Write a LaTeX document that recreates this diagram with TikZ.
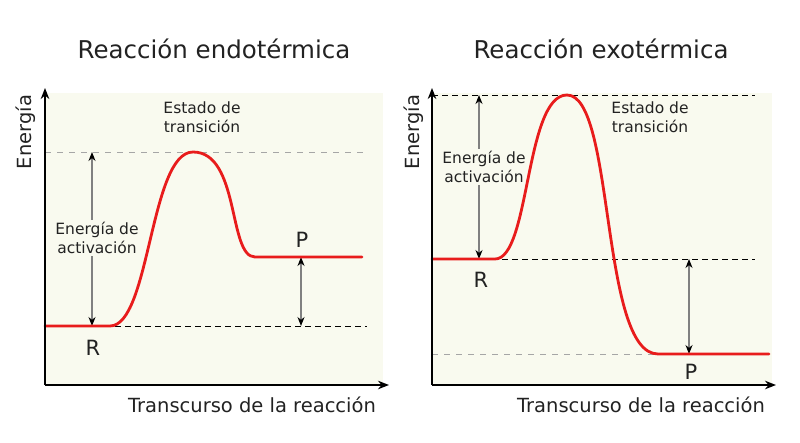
\documentclass[tikz,border=0pt]{standalone}
\usepackage{fontspec}
\setmainfont{DejaVu Sans}
\usetikzlibrary{arrows.meta, positioning}
\definecolor{panelbg}{RGB}{249,250,239}
\definecolor{curvered}{RGB}{232,28,28}
\definecolor{txtgray}{RGB}{34,34,34}

\begin{document}
\begin{tikzpicture}[x=1pt, y=-1pt,
  panel/.style={fill=panelbg, draw=none},
  axis/.style={-{Stealth[length=11pt, width=8.5pt]}, line width=1.8pt, black},
  curve/.style={line width=2.8pt, curvered, line cap=round},
  lvl/.style={dash pattern=on 6pt off 4pt, line width=0.9pt, black},
  lvlgray/.style={dash pattern=on 6pt off 6pt, line width=0.9pt, black!35},
  gap/.style={{Stealth[black, length=9pt, width=7pt]}-{Stealth[black, length=9pt, width=7pt]},
    line width=1.4pt, black!50},
  title/.style={font=\fontsize{24.5}{28}\selectfont, text=txtgray, anchor=base},
  axlabel/.style={font=\fontsize{19.5}{23}\selectfont, text=txtgray},
  note/.style={font=\fontsize{15.5}{19}\selectfont, text=txtgray, align=center, inner sep=2pt},
  state/.style={font=\fontsize{21}{24}\selectfont, text=txtgray, anchor=base}
]
\useasboundingbox (0,0) rectangle (800,442);

% ---- Reaccion endotermica ----
\fill[panel] (45,93) rectangle (383,385);
\coordinate (oL) at (45,385);
\coordinate (yL) at (45,88);
\coordinate (xL) at (389,385);
\coordinate (rL0) at (45,326);
\coordinate (rL) at (110,326);
\coordinate (tsL) at (193,152);
\coordinate (pL) at (255,257);
\coordinate (pL1) at (362,257);

\draw[lvlgray] (45,152) -- (367,152);
\draw[lvl] (rL0) -- (367,326);
\draw[gap] (92,152) -- (92,326);
\node[note, fill=panelbg] (eaL) at (97,238) {Energía de\\activación};
\draw[gap] (301,257) -- (301,326);
\draw[curve] (rL0) -- (rL) .. controls (150,326) and (150,152) .. (tsL)
  .. controls (240,152) and (228,257) .. (pL) -- (pL1);

\node[note] (tsLlab) at (202,117) {Estado de\\transición};
\node[state] (Rlab) at (93,355) {R};
\node[state] (Plab) at (302,247) {P};

\draw[axis] (oL) -- (yL);
\draw[axis] (oL) -- (xL);
\node[title] (tL) at (214,58) {Reacción endotérmica};
\node[axlabel, rotate=90] (eL) at (26,132) {Energía};
\node[axlabel, anchor=base] (trL) at (252,412) {Transcurso de la reacción};

% ---- Reaccion exotermica ----
\fill[panel] (432,93) rectangle (772,385);
\coordinate (oR) at (432,385);
\coordinate (yR) at (432,88);
\coordinate (xR) at (776,385);
\coordinate (rR0) at (432,259);
\coordinate (rR) at (495,259);
\coordinate (tsR) at (567,95);
\coordinate (pR) at (658,354);
\coordinate (pR1) at (769,354);

\draw[lvl] (432,95) -- (755,95);
\draw[lvl] (rR0) -- (755,259);
\draw[lvlgray] (432,354) -- (660,354);
\draw[gap] (479,95) -- (479,259);
\node[note, fill=panelbg] (eaR) at (484,167) {Energía de\\activación};
\draw[gap] (689,259) -- (689,354);
\draw[curve] (rR0) -- (rR) .. controls (530,259) and (525,95) .. (tsR)
  .. controls (615,95) and (600,354) .. (pR) -- (pR1);

\node[note] (tsRlab) at (650,117) {Estado de\\transición};
\node[state] (Rlab2) at (481,287) {R};
\node[state] (Plab2) at (691,379) {P};

\draw[axis] (oR) -- (yR);
\draw[axis] (oR) -- (xR);
\node[title] (tR) at (601,58) {Reacción exotérmica};
\node[axlabel, rotate=90] (eR) at (414,132) {Energía};
\node[axlabel, anchor=base] (trR) at (641,412) {Transcurso de la reacción};
\end{tikzpicture}
\end{document}
